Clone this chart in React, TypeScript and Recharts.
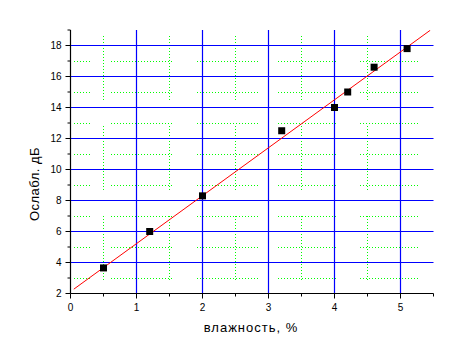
import {
  ReferenceLine,
  Scatter,
  ScatterChart,
  XAxis,
  YAxis,
} from 'recharts'

// measured points
const humidity = [0.5, 1.2, 2.0, 3.2, 4.0, 4.2, 4.6, 5.1]
const attenuation = [3.65, 6.0, 8.3, 12.5, 14.0, 15.0, 16.6, 17.8]

// linear fit, drawn between its two end points
const fitX = [0.05, 5.45]
const fitY = [2.28, 18.98]

const xTicks = [0, 0.5, 1, 1.5, 2, 2.5, 3, 3.5, 4, 4.5, 5, 5.5]
const yTicks = [2, 3, 4, 5, 6, 7, 8, 9, 10, 11, 12, 13, 14, 15, 16, 17, 18, 19]
const xMajorGrid = [1, 2, 3, 4, 5]
const yMajorGrid = [4, 6, 8, 10, 12, 14, 16, 18]
const xMinorGrid = [0.5, 1.5, 2.5, 3.5, 4.5]
const yMinorGrid = [3, 5, 7, 9, 11, 13, 15, 17]

// the dotted minor grid is broken into pieces in the original plot
const hPieces = [[0.05, 0.31], [0.62, 1.55], [1.91, 2.84], [3.14, 4.06], [4.38, 5.29]]
const vPieces = [[18.63, 14.38], [12.81, 8.52], [6.97, 2.74]]

const points = humidity.map((x, i) => ({ x, y: attenuation[i] }))
const fit = fitX.map((x, i) => ({ x, y: fitY[i] }))

const FONT = "'Liberation Sans', Arial, sans-serif"
const isMajor = (v: number) => Number.isInteger(v)
const isEven = (v: number) => v % 2 === 0

const XTick = (props: any) => {
  const { x, y, payload } = props
  const major = isMajor(payload.value)
  return (
    <g>
      <line x1={x} y1={y} x2={x} y2={y + (major ? 5 : 3)} stroke='#000' strokeWidth={1} />
      {major && (
        <text x={x} y={y + 17} textAnchor='middle' fontSize={10} fontFamily={FONT} fill='#000'>
          {payload.value}
        </text>
      )}
    </g>
  )
}

const YTick = (props: any) => {
  const { x, y, payload } = props
  const major = isEven(payload.value)
  return (
    <g>
      <line x1={x} y1={y} x2={x - (major ? 5 : 3)} y2={y} stroke='#000' strokeWidth={1} />
      {major && (
        <text x={x - 9} y={y + 3.5} textAnchor='end' fontSize={10} fontFamily={FONT} fill='#000'>
          {payload.value}
        </text>
      )}
    </g>
  )
}

const Square = (props: any) => {
  const { cx, cy } = props
  return <rect x={cx - 3.5} y={cy - 3.5} width={7} height={7} fill='#000' />
}

const NoDot = () => <g />

export default function App() {
  return (
    <div style={{ position: 'absolute', left: 0, top: 0, width: 463, height: 364, background: '#fff' }}>
      <ScatterChart width={463} height={364} margin={{ top: 30, right: 29.5, left: 30.5, bottom: 40.5 }}>
        <XAxis
          type='number'
          dataKey='x'
          domain={[0, 5.5]}
          ticks={xTicks}
          interval={0}
          tickSize={0}
          tickMargin={0}
          tick={<XTick />}
          tickLine={false}
          height={30}
          axisLine={{ stroke: '#000', strokeWidth: 1.2 }}
          allowDataOverflow
        />
        <YAxis
          type='number'
          dataKey='y'
          domain={[2, 19]}
          ticks={yTicks}
          interval={0}
          tickSize={0}
          tickMargin={0}
          tick={<YTick />}
          tickLine={false}
          width={40}
          axisLine={{ stroke: '#000', strokeWidth: 1.2 }}
          allowDataOverflow
        />

        {yMinorGrid.flatMap((yv) =>
          hPieces.map(([a, b], j) => (
            <ReferenceLine
              key={`h${yv}-${j}`}
              segment={[{ x: a, y: yv }, { x: b, y: yv }]}
              stroke='#00ff00'
              strokeWidth={1}
              strokeDasharray='1 2'
              shapeRendering='crispEdges'
            />
          ))
        )}
        {xMinorGrid.flatMap((xv) =>
          vPieces.map(([a, b], j) => (
            <ReferenceLine
              key={`v${xv}-${j}`}
              segment={[{ x: xv, y: a }, { x: xv, y: b }]}
              stroke='#00ff00'
              strokeWidth={1}
              strokeDasharray='1 2'
              shapeRendering='crispEdges'
            />
          ))
        )}
        {xMajorGrid.map((v) => (
          <ReferenceLine key={`mx${v}`} x={v} stroke='#0000ff' strokeWidth={1.2} />
        ))}
        {yMajorGrid.map((v) => (
          <ReferenceLine key={`my${v}`} y={v} stroke='#0000ff' strokeWidth={1.2} />
        ))}

        <Scatter
          data={fit}
          line={{ stroke: '#ff0000', strokeWidth: 1 }}
          shape={<NoDot />}
          isAnimationActive={false}
        />
        <Scatter data={points} shape={<Square />} isAnimationActive={false} />
      </ScatterChart>
      <div
        style={{
          position: 'absolute',
          left: 70,
          width: 362,
          top: 320,
          textAlign: 'center',
          fontFamily: FONT,
          fontSize: 13,
          letterSpacing: 1,
          color: '#000',
        }}
      >
        влажность, %
      </div>
      <div
        style={{
          position: 'absolute',
          left: 34,
          top: 184,
          transform: 'translate(-50%, -50%) rotate(-90deg)',
          whiteSpace: 'nowrap',
          fontFamily: FONT,
          fontSize: 13,
          letterSpacing: 0.5,
          color: '#000',
        }}
      >
        Ослабл. дБ
      </div>
    </div>
  )
}
